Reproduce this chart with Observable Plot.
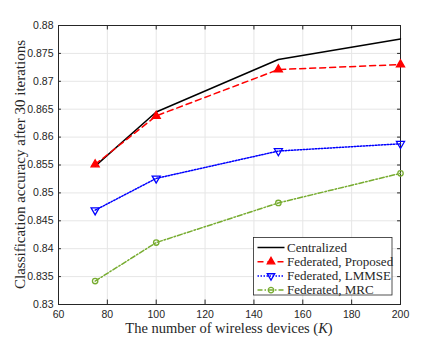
<!DOCTYPE html>
<html><head><meta charset="utf-8">
<script src="https://cdn.jsdelivr.net/npm/d3@7"></script>
<script src="https://cdn.jsdelivr.net/npm/@observablehq/plot@0.6"></script>
<style>
body{margin:0;background:#fff;}
#chart{position:relative;width:442px;height:342px;}
</style></head>
<body><div id="chart"></div>
<script>
const devices = [75, 100, 150, 200];
const centralized = [0.8548, 0.8645, 0.8739, 0.8776];
const proposed = [0.8551, 0.8638, 0.8721, 0.8730];
const lmmse = [0.8469, 0.8526, 0.8575, 0.8588];
const mrc = [0.8342, 0.8411, 0.8482, 0.8535];
const seriesNames = ["Centralized", "Federated, Proposed", "Federated, LMMSE", "Federated, MRC"];
const xTicks = [60, 80, 100, 120, 140, 160, 180, 200];
const yTicks = [0.83, 0.835, 0.84, 0.845, 0.85, 0.855, 0.86, 0.865, 0.87, 0.875, 0.88];
const yTickLabels = ["0.83","0.835","0.84","0.845","0.85","0.855","0.86","0.865","0.87","0.875","0.88"];

const styles = [
  {color: "#000000", dash: null, symbol: null},
  {color: "#FF0000", dash: "6,4", symbol: "triangle", rotate: 0, fill: "#FF0000"},
  {color: "#0000FF", dash: "1.5,1.5", symbol: "triangle", rotate: 180, fill: "none"},
  {color: "#77AC30", dash: "5,2,1.5,2", symbol: "circle", rotate: 0, fill: "none"}
];
const allVals = [centralized, proposed, lmmse, mrc];
const data = allVals.map((vals, i) => devices.map((d, j) => ({x: d, y: vals[j], s: seriesNames[i]})));

const serif = "'Liberation Serif', 'DejaVu Serif', serif";
const sans = "'Liberation Sans', Arial, sans-serif";

const marks = [
  Plot.gridX(xTicks, {stroke: "#e6e6e6", strokeOpacity: 1}),
  Plot.gridY(yTicks, {stroke: "#e6e6e6", strokeOpacity: 1}),
  Plot.frame({stroke: "#262626", strokeWidth: 1}),
  Plot.axisX(xTicks, {anchor: "bottom", tickSize: 0, tickPadding: 6, fontSize: 10.5, fill: "#262626", fontFamily: sans, label: null}),
  Plot.axisY(yTicks, {anchor: "left", tickSize: 0, tickPadding: 5, fontSize: 10.5, fill: "#262626", fontFamily: sans, label: null, tickFormat: (d, i) => yTickLabels[i]}),
  Plot.ruleX(xTicks, {x: d => d, y1: 0.88, y2: 0.8792, stroke: "#262626"}),
  Plot.ruleX(xTicks, {x: d => d, y1: 0.83, y2: 0.8308, stroke: "#262626"}),
  Plot.ruleY(yTicks, {y: d => d, x1: 60, x2: 61.2, stroke: "#262626"}),
  Plot.ruleY(yTicks, {y: d => d, x1: 200, x2: 198.8, stroke: "#262626"})
];
data.forEach((rows, i) => {
  const st = styles[i];
  marks.push(Plot.line(rows, {x: "x", y: "y", stroke: st.color, strokeWidth: 1.5, strokeDasharray: st.dash}));
  if (st.symbol) {
    marks.push(Plot.dot(rows, {x: "x", y: "y", symbol: st.symbol, r: st.symbol === "circle" ? 2.7 : 3, rotate: st.rotate, stroke: st.color, strokeWidth: 1.3, fill: st.fill}));
  }
});

const plot = Plot.plot({
  width: 442, height: 342,
  marginLeft: 58, marginRight: 42, marginTop: 25, marginBottom: 38,
  x: {domain: [60, 200]},
  y: {domain: [0.83, 0.88]},
  style: {background: "#fff", overflow: "visible"},
  marks
});
document.getElementById("chart").appendChild(plot);

const svg = d3.select(plot);
// axis labels
svg.append("text").attr("x", 229).attr("y", 333).attr("text-anchor", "middle")
  .attr("font-family", serif).attr("font-size", 14.5).attr("fill", "#262626")
  .html('The number of wireless devices (<tspan font-style="italic">K</tspan>)');
svg.append("text").attr("transform", "translate(24.5,164.5) rotate(-90)").attr("text-anchor", "middle")
  .attr("font-family", serif).attr("font-size", 15).attr("fill", "#262626")
  .text("Classification accuracy after 30 iterations");

// legend
const lg = svg.append("g").attr("transform", "translate(253.5,237.5)");
lg.append("rect").attr("width", 138.5).attr("height", 57.5).attr("fill", "#fff").attr("stroke", "#262626").attr("stroke-width", 0.8);
seriesNames.forEach((name, i) => {
  const st = styles[i];
  const yy = 10 + i * 14.2;
  lg.append("line").attr("x1", 4).attr("x2", 31).attr("y1", yy).attr("y2", yy)
    .attr("stroke", st.color).attr("stroke-width", 1.5).attr("stroke-dasharray", st.dash);
  if (st.symbol) {
    const sym = d3.symbol(st.symbol === "circle" ? d3.symbolCircle : d3.symbolTriangle, st.symbol === "circle" ? 24 : 24);
    lg.append("path").attr("d", sym()).attr("transform", `translate(17.5,${yy}) rotate(${st.rotate})`)
      .attr("fill", st.fill).attr("stroke", st.color).attr("stroke-width", 1.3);
  }
  lg.append("text").attr("x", 33.5).attr("y", yy + 4.3).attr("text-anchor", "start")
    .attr("font-family", serif).attr("font-size", 13).attr("fill", "#262626").text(name);
});
</script></body></html>
